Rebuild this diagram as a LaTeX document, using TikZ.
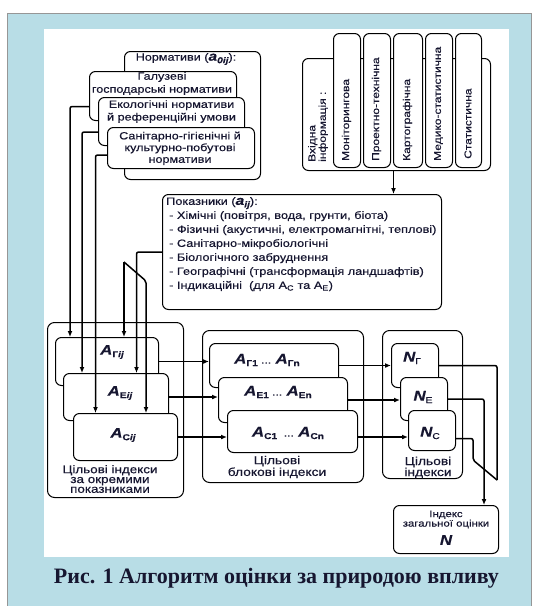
\documentclass[tikz,border=0pt]{standalone}
\usepackage{fontspec}
\setmainfont[FakeStretch=1.2,FakeBold=0.4]{Liberation Sans}
\newfontfamily\capfont{Liberation Serif}
\usetikzlibrary{arrows.meta}
\definecolor{bgblue}{RGB}{184,221,230}
\definecolor{framegray}{RGB}{150,150,150}
\definecolor{ink}{RGB}{22,22,48}
\newcommand{\idxlab}[2]{{\fontsize{14}{14}\selectfont\bfseries\itshape #1}\raisebox{-2.5pt}{\fontsize{8.5}{8.5}\selectfont\bfseries #2}}

\begin{document}
\begin{tikzpicture}[x=1pt,y=-1pt,
  card/.style={draw,line width=1pt,rounded corners=6pt,fill=white,anchor=north west,inner sep=0pt},
  grp/.style={card,rounded corners=7pt},
  txt/.style={text=ink,inner sep=0pt,align=center},
  rot/.style={txt,rotate=90,anchor=west,align=left,font=\fontsize{10}{10.5}\selectfont},
  arr/.style={line width=1.5pt,rounded corners=2pt,-{Latex[length=6pt,width=5pt]}},
  ln/.style={line width=1.5pt,rounded corners=2pt}]

\useasboundingbox (0,0) rectangle (535,606);
\fill[white] (0,0) rectangle (535,606);
\draw[framegray,fill=bgblue] (7.5,13.5) rectangle (531,620);
\fill[white] (43.5,28.5) rectangle (509,557);

\node[card,minimum width=136pt,minimum height=128pt] (norm) at (124,51) {};
\node[card,minimum width=147pt,minimum height=49pt] (gal) at (89,71) {};
\node[card,minimum width=146pt,minimum height=48pt] (eco) at (98,97) {};
\node[card,minimum width=147pt,minimum height=41pt] (san) at (107,127) {};
\node[txt,font=\fontsize{10.5}{12}\selectfont] (normT) at (186,59) {Нормативи ({\fontsize{13}{13}\selectfont\bfseries\itshape a}\raisebox{-2.5pt}{\fontsize{8.5}{8.5}\selectfont\bfseries\itshape 0ij}):};
\node[txt,font=\fontsize{10.5}{13}\selectfont] (galT) at (162,83.5) {Галузеві\\господарські нормативи};
\node[txt,font=\fontsize{10.5}{12.7}\selectfont] (ecoT) at (171.5,111.5) {Екологічні нормативи\\й референційні умови};
\node[txt,font=\fontsize{10.5}{11.7}\selectfont] (sanT) at (180,148.3) {Санітарно-гігієнічні й\\культурно-побутові\\нормативи};

\node[card,minimum width=188pt,minimum height=112pt] (inp) at (302,58) {};
\node[card,minimum width=27pt,minimum height=134pt] (m1) at (333,33) {};
\node[card,minimum width=27pt,minimum height=134pt] (m2) at (363,33) {};
\node[card,minimum width=29pt,minimum height=134pt] (m3) at (393,33) {};
\node[card,minimum width=27pt,minimum height=134pt] (m4) at (425,33) {};
\node[card,minimum width=26pt,minimum height=134pt] (m5) at (455,33) {};
\node[rot] (inpT) at (318,162) {Вхідна\\інформація :};
\node[rot] (m1T) at (346.5,161) {Моніторингова};
\node[rot] (m2T) at (376.5,161) {Проектно-технічна};
\node[rot] (m3T) at (407.5,161) {Картографічна};
\node[rot] (m4T) at (438.5,161) {Медико-статистична};
\node[rot] (m5T) at (468,159) {Статистична};

\node[card,minimum width=279pt,minimum height=115pt] (pok) at (162,194) {};
\node[txt,anchor=north west,align=left,font=\fontsize{10.6}{14}\selectfont] (pokT) at (166,197) {Показники ({\fontsize{13}{13}\selectfont\bfseries\itshape a}\raisebox{-2.5pt}{\fontsize{8.5}{8.5}\selectfont\bfseries\itshape ij}):\\
\hspace*{3pt}- Хімічні (повітря, вода, грунти, біота)\\
\hspace*{3pt}- Фізичні (акустичні, електромагнітні, теплові)\\
\hspace*{3pt}- Санітарно-мікробіологічні\\
\hspace*{3pt}- Біологічного забруднення\\
\hspace*{3pt}- Географічні (трансформація ландшафтів)\\
\hspace*{3pt}- Індикаційні\ \ (для A\textsubscript{C} та A\textsubscript{E})};

\node[grp,minimum width=136pt,minimum height=175pt] (tgt) at (47,322) {};
\node[card,minimum width=103pt,minimum height=48pt] (aG) at (55,337) {};
\node[card,minimum width=105pt,minimum height=47pt] (aE) at (63,373) {};
\node[card,minimum width=104pt,minimum height=47pt] (aC) at (73,413) {};
\node[txt] (aGT) at (112,352) {\idxlab{A}{Г\itshape ij}};
\node[txt] (aET) at (120,393) {\idxlab{A}{E\itshape ij}};
\node[txt] (aCT) at (123,435) {\idxlab{A}{C\itshape ij}};
\node[txt,font=\fontsize{11.2}{9.8}\selectfont] (tgtT) at (110,479) {Цільові індекси\\за окремими\\показниками};

\node[grp,minimum width=161pt,minimum height=152pt] (blk) at (202,330) {};
\node[card,minimum width=129pt,minimum height=44pt] (bG) at (209,343) {};
\node[card,minimum width=129pt,minimum height=45pt] (bE) at (218,377) {};
\node[card,minimum width=130pt,minimum height=42pt] (bC) at (227,410) {};
\node[txt] (bGT) at (267,360) {\idxlab{A}{Г1} ... \idxlab{A}{Гn}};
\node[txt] (bET) at (278,392) {\idxlab{A}{E1} ... \idxlab{A}{En}};
\node[txt] (bCT) at (288,433) {\idxlab{A}{C1} \ ... \idxlab{A}{Cn}};
\node[txt,font=\fontsize{11.5}{10.5}\selectfont] (blkT) at (277,467) {Цільові\\блокові індекси};

\node[grp,minimum width=80pt,minimum height=148pt] (ndx) at (382,330) {};
\node[card,minimum width=47pt,minimum height=44pt] (nG) at (391,343) {};
\node[card,minimum width=47pt,minimum height=43pt] (nE) at (400,377) {};
\node[card,minimum width=47pt,minimum height=40pt] (nC) at (408,410) {};
\node[txt] (nGT) at (412,358) {\idxlab{N}{\mdseries Г}};
\node[txt] (nET) at (423,397) {\idxlab{N}{\mdseries E}};
\node[txt] (nCT) at (430,433) {\idxlab{N}{\mdseries C}};
\node[txt,font=\fontsize{11.5}{11}\selectfont] (ndxT) at (428,467.5) {Цільові\\індекси};

\node[card,minimum width=105pt,minimum height=48pt] (tot) at (393,505) {};
\node[txt,font=\fontsize{9.5}{9.5}\selectfont] (totT) at (446,519.5) {Індекс\\загальної оцінки};
\node[txt,font=\fontsize{14}{14}\selectfont\bfseries\itshape] (totN) at (446,540) {N};

\node[txt,font=\capfont\bfseries\fontsize{22}{22}\selectfont] (cap) at (276.5,578) {Рис. 1 Алгоритм оцінки за природою впливу};

\coordinate (pk1) at (124,262);
\coordinate (pk2) at (146,281);
\coordinate (bend) at (473,460);
\coordinate (mrg) at (497,480);

\draw[arr] ([yshift=-10.5pt]gal.west) -| ([xshift=15pt]aG.north west);
\draw[arr] ([yshift=-10.5pt]eco.west) -| ([xshift=19pt]aE.north west);
\draw[arr] ([yshift=-7pt]san.west) -| ([xshift=22.5pt]aC.north west);
\draw[arr] ([xshift=-3pt]inp.south) -- ([xshift=-3pt]inp.south |- pok.north);
\draw[arr] (pok.west) -| ([xshift=20.5pt]aE.north);
\draw[arr] (pk1) -- (pk1 |- aG.north);
\draw[arr] (pk1) -- (pk2) -- (pk2 |- aC.north);

\draw[arr] (aG.east) -- (aG.east -| bG.west);
\draw[arr] (aE.east) -- (aE.east -| bE.west);
\draw[arr] (aC.east) -- (aC.east -| bC.west);
\draw[arr] (bG.east) -- (nG.west);
\draw[arr] (bE.east) -- (bE.east -| nE.west);
\draw[arr] (aC.east -| bC.east) -- (aC.east -| nC.west);

\draw[ln] (nG.east) -| (mrg);
\draw[ln] ([yshift=-8pt]nC.east) -| (bend) -- (mrg);
\draw[arr] (nE.east) -| ([xshift=38pt]tot.north);

\end{tikzpicture}
\end{document}
